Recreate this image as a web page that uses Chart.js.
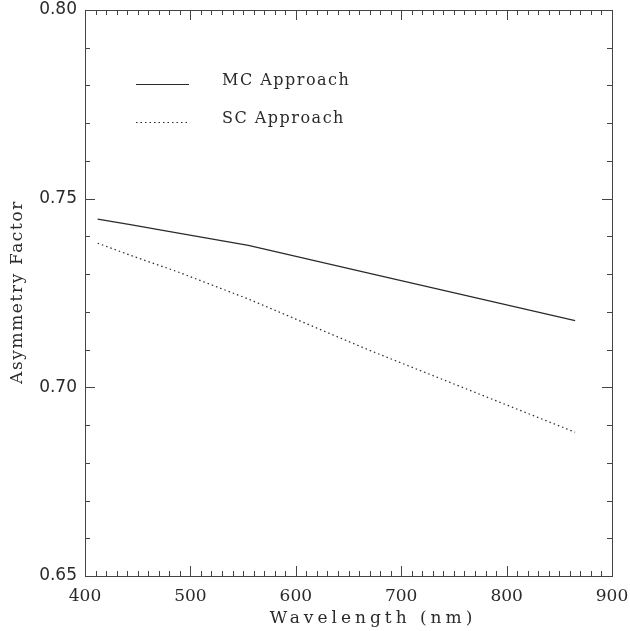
<!DOCTYPE html>
<html lang="en">
<head>
    <meta charset="UTF-8">
    <title>Asymmetry Factor</title>
    <script src="https://cdn.jsdelivr.net/npm/chart.js"></script>
    <style>
        body { margin: 0; background: #fff; }
        #wrap { width: 630px; height: 631px; }
    </style>
</head>
<body>
    <div id="wrap"><canvas id="asymChart"></canvas></div>
    <script>
        // wavelengths (nm) and asymmetry factor for each approach
        const wavelengths = [412, 443, 490, 555, 670, 865];
        const mcAsym = [0.7446, 0.7431, 0.7408, 0.7376, 0.7302, 0.7177];
        const scAsym = [0.7382, 0.7350, 0.7304, 0.7234, 0.7098, 0.6881];
        const seriesNames = ['MC Approach', 'SC Approach'];
        const xTicks = [400, 500, 600, 700, 800, 900];
        const yTicks = [0.65, 0.70, 0.75, 0.80];

        const ink = '#2a2a2a';
        const serif = '"DejaVu Serif", serif';

        function toPoints(ys) {
            return wavelengths.map((w, i) => ({ x: w, y: ys[i] }));
        }

        // frame with inward ticks on all four sides, IDL style
        const framePlugin = {
            id: 'frame',
            afterDraw(chart) {
                const ctx = chart.ctx;
                const a = chart.chartArea;
                const xs = chart.scales.x;
                const ys = chart.scales.y;
                ctx.save();
                ctx.strokeStyle = '#444';
                ctx.lineWidth = 1;
                ctx.strokeRect(a.left + 0.5, a.top + 0.5, a.right - a.left, a.bottom - a.top);
                ctx.beginPath();
                for (let v = xTicks[0] + 10; v < xTicks[xTicks.length - 1]; v += 10) {
                    const px = Math.round(xs.getPixelForValue(v)) + 0.5;
                    const len = v % 100 === 0 ? 10 : 5;
                    ctx.moveTo(px, a.bottom);
                    ctx.lineTo(px, a.bottom - len);
                    ctx.moveTo(px, a.top);
                    ctx.lineTo(px, a.top + len);
                }
                for (let k = 1; k < 15; k++) {
                    const py = Math.round(ys.getPixelForValue(0.65 + k * 0.01)) + 0.5;
                    const len = k % 5 === 0 ? 10 : 5;
                    ctx.moveTo(a.left, py);
                    ctx.lineTo(a.left + len, py);
                    ctx.moveTo(a.right, py);
                    ctx.lineTo(a.right - len, py);
                }
                ctx.stroke();

                // axis titles
                ctx.fillStyle = ink;
                ctx.textAlign = 'center';
                ctx.textBaseline = 'alphabetic';
                ctx.letterSpacing = '4px';
                ctx.font = '17px ' + serif;
                ctx.fillText('Wavelength (nm)', 373, 623);
                ctx.save();
                ctx.translate(22, 292);
                ctx.rotate(-Math.PI / 2);
                ctx.letterSpacing = '1.6px';
                ctx.font = '17px ' + serif;
                ctx.fillText('Asymmetry Factor', 0, 0);
                ctx.restore();

                // legend
                const rows = [84, 122];
                chart.data.datasets.forEach((ds, i) => {
                    ctx.beginPath();
                    ctx.strokeStyle = ds.borderColor;
                    ctx.lineWidth = ds.borderWidth;
                    ctx.setLineDash(ds.borderDash || []);
                    ctx.moveTo(136, rows[i] + 0.5);
                    ctx.lineTo(189, rows[i] + 0.5);
                    ctx.stroke();
                    ctx.setLineDash([]);
                    ctx.textAlign = 'left';
                    ctx.letterSpacing = '1.5px';
                    ctx.font = '16px ' + serif;
                    ctx.fillText(ds.label, 222, rows[i] + 1);
                });
                ctx.restore();
            }
        };

        new Chart(document.getElementById('asymChart'), {
            type: 'line',
            data: {
                datasets: [{
                    label: seriesNames[0],
                    data: toPoints(mcAsym),
                    borderColor: ink,
                    borderWidth: 1.2,
                    pointRadius: 0,
                    tension: 0
                }, {
                    label: seriesNames[1],
                    data: toPoints(scAsym),
                    borderColor: ink,
                    borderWidth: 1.2,
                    borderDash: [1.5, 3],
                    pointRadius: 0,
                    tension: 0
                }]
            },
            options: {
                responsive: true,
                maintainAspectRatio: false,
                animation: false,
                layout: { padding: { top: 10, right: 18, left: 0, bottom: 0 } },
                plugins: {
                    legend: { display: false },
                    tooltip: { enabled: false }
                },
                scales: {
                    x: {
                        type: 'linear',
                        min: xTicks[0],
                        max: xTicks[xTicks.length - 1],
                        afterFit: s => {
                            s.height = 55;
                            s.paddingLeft = 0;
                            s.paddingRight = 0;
                        },
                        afterBuildTicks: s => { s.ticks = xTicks.map(v => ({ value: v })); },
                        grid: { display: false, drawTicks: false },
                        border: { display: false },
                        ticks: {
                            padding: 10,
                            color: ink,
                            font: { family: serif, size: 17 },
                            maxRotation: 0
                        }
                    },
                    y: {
                        min: yTicks[0],
                        max: yTicks[yTicks.length - 1],
                        afterFit: s => {
                            s.width = 85;
                            s.paddingTop = 0;
                            s.paddingBottom = 0;
                        },
                        afterBuildTicks: s => { s.ticks = yTicks.map(v => ({ value: v })); },
                        grid: { display: false, drawTicks: false },
                        border: { display: false },
                        ticks: {
                            padding: 8,
                            color: ink,
                            font: { family: '"DejaVu Sans", sans-serif', size: 17 },
                            callback: v => v.toFixed(2)
                        }
                    }
                }
            },
            plugins: [framePlugin]
        });
    </script>
</body>
</html>
